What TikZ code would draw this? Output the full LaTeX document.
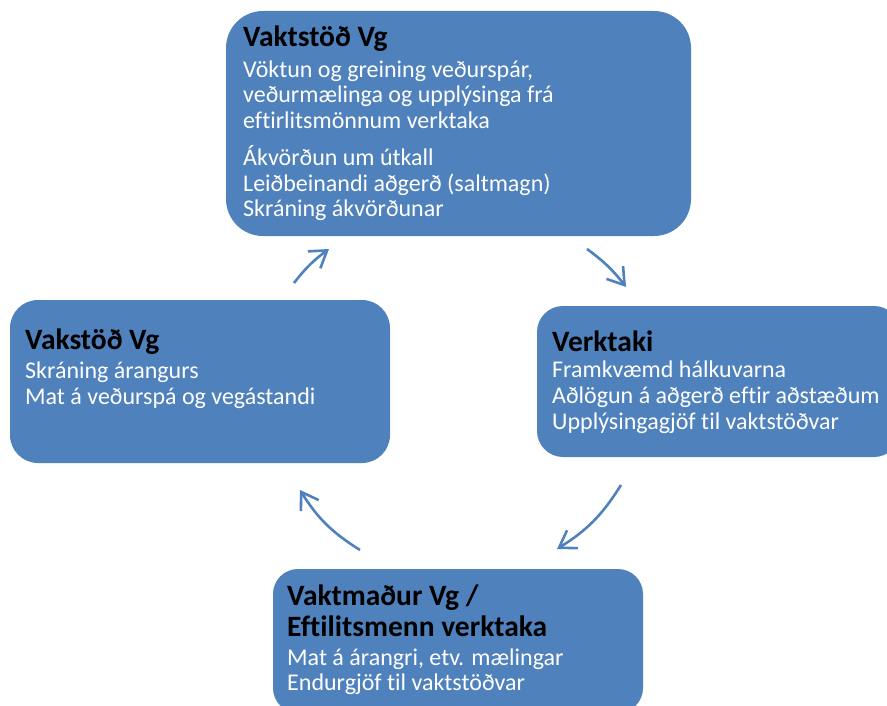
\documentclass[tikz,border=0pt]{standalone}
\usepackage{fontspec}
\setmainfont[Ligatures=NoCommon]{Carlito}
\usetikzlibrary{arrows.meta}
\definecolor{boxblue}{RGB}{79,129,189}
\newcommand{\hd}[1]{{\fontsize{29.5}{30}\selectfont\bfseries\color{black}#1}}

\begin{document}
\begin{tikzpicture}[x=1pt,y=-1pt,
    box/.style={fill=boxblue,draw=none,inner sep=0pt},
    txt/.style={anchor=base west,align=left,inner sep=0pt,text=white,
                font=\fontsize{24}{25.6}\selectfont},
    cyc/.style={draw=boxblue,line width=2.6pt,
                -{Straight Barb[length=16pt,width=21pt]}}]
  \clip (0,0) rectangle (887,706);
  % boxes
  \node[box,minimum width=465pt,minimum height=225pt,rounded corners=37pt] (vakt)  at (458.5,123.5) {};
  \node[box,minimum width=363pt,minimum height=151pt,rounded corners=26pt] (verk)  at (718.5,381.5) {};
  \node[box,minimum width=370pt,minimum height=144pt,rounded corners=25pt] (eftir) at (458,641) {};
  \node[box,minimum width=380pt,minimum height=163pt,rounded corners=28pt] (skra)  at (200,381.5) {};
  % texts (placed at the baseline of their last line)
  \node[txt] (vakttxt) at (243,216.7) {\hd{Vaktstöð Vg}\\[4.8pt]
    Vöktun og greining veðurspár,\\
    veðurmælinga og upplýsinga frá\\
    eftirlitsmönnum verktaka\\[11.6pt]
    Ákvörðun um útkall\\
    Leiðbeinandi aðgerð (saltmagn)\\
    Skráning ákvörðunar};
  \node[txt] (verktxt) at (552,429) {\hd{Verktaki}\\[1.2pt]
    Framkvæmd hálkuvarna\\
    Aðlögun á aðgerð eftir aðstæðum\\
    Upplýsingagjöf til vaktstöðvar};
  \node[txt] (eftirtxt) at (287,690.7) {\hd{Vaktmaður Vg /}\\[4.4pt]
    \hd{Eftilitsmenn verktaka}\\[2.7pt]
    Mat á árangri, etv. mælingar\\
    Endurgjöf til vaktstöðvar};
  \node[txt] (skratxt) at (25,404) {\hd{Vakstöð Vg}\\[3pt]
    Skráning árangurs\\
    Mat á veðurspá og vegástandi};
  % cycle arrows
  \coordinate (p1) at (294,283);  \coordinate (q1) at (329,249);
  \coordinate (p2) at (587,249);  \coordinate (q2) at (626,287);
  \coordinate (p3) at (621,485);  \coordinate (q3) at (557,549);
  \coordinate (p4) at (360,550);  \coordinate (q4) at (300,490);
  \draw[cyc] (p1) to[bend left=8] (q1);
  \draw[cyc] (p2) to[bend left=8] (q2);
  \draw[cyc] (p3) to[bend left=13] (q3);
  \draw[cyc] (p4) to[bend left=13] (q4);
\end{tikzpicture}
\end{document}
